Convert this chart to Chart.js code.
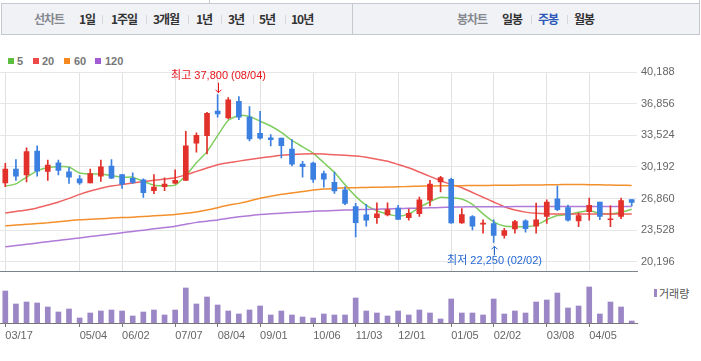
<!DOCTYPE html>
<html lang="ko">
<head>
<meta charset="UTF-8">
<title>주봉 차트</title>
<script src="https://cdn.jsdelivr.net/npm/chart.js"></script>
<style>
html, body { margin: 0; padding: 0; background: #fff; }
body { width: 701px; height: 361px; position: relative; overflow: hidden; font-family: "Noto Sans CJK KR", sans-serif; }
.vline { position: absolute; width: 1px; background: #c5c8ce; }
#bar { position: absolute; left: 1px; top: 3px; width: 699px; height: 32px; box-sizing: border-box; border: 1px solid #c5c8ce; background: #f1f2f6; }
#bar span { position: absolute; top: 0; line-height: 30px; font-size: 12px; font-weight: bold; color: #333; letter-spacing: -1px; white-space: nowrap; }
#bar span.dim { color: #85888f; }
#bar span.on { color: #2d57b9; }
#bar i { position: absolute; top: 11px; width: 1px; height: 9px; background: #d5d7dc; }
#bar b { position: absolute; top: 0; left: 350px; width: 1px; height: 30px; background: #c5c8ce; }
#legend span, #vlegend span { position: absolute; font: bold 11px "Liberation Sans", sans-serif; color: #777; line-height: 12px; }
#legend em, #vlegend em { position: absolute; display: block; }
canvas { position: absolute; left: 0; }
#price { top: 0; }
#vol { top: 282px; }
</style>
</head>
<body>
<div class="vline" style="left:209px; top:0; height:4px"></div>
<div class="vline" style="left:699px; top:0; height:4px"></div>
<div id="bar">
  <span class="dim" style="left:32px">선차트</span>
  <span style="left:77px">1일</span><i style="left:100px"></i>
  <span style="left:109px">1주일</span><i style="left:144px"></i>
  <span style="left:151px">3개월</span><i style="left:186px"></i>
  <span style="left:194px">1년</span><i style="left:219px"></i>
  <span style="left:226px">3년</span><i style="left:251px"></i>
  <span style="left:257px">5년</span><i style="left:283px"></i>
  <span style="left:289px">10년</span>
  <b></b>
  <span class="dim" style="left:455px">봉차트</span>
  <span style="left:500px">일봉</span><i style="left:529px"></i>
  <span class="on" style="left:536px">주봉</span><i style="left:565px"></i>
  <span style="left:572px">월봉</span>
</div>
<div id="legend">
  <em style="left:8px; top:58px; width:6px; height:6px; background:#5cbf40"></em><span style="left:17px; top:55px">5</span>
  <em style="left:33px; top:58px; width:6px; height:6px; background:#ee4848"></em><span style="left:42px; top:55px">20</span>
  <em style="left:64px; top:58px; width:6px; height:6px; background:#f5891f"></em><span style="left:74px; top:55px">60</span>
  <em style="left:95px; top:58px; width:6px; height:6px; background:#a35bd3"></em><span style="left:105px; top:55px">120</span>
</div>
<div id="vlegend">
  <em style="left:654px; top:289px; width:3px; height:8px; background:#9b86c6"></em><span style="left:659px; top:287px; font-weight:normal; color:#555; font-family:'Noto Sans CJK KR'; font-size:11px">거래량</span>
</div>
<canvas id="price" width="701" height="282"></canvas>
<canvas id="vol" width="701" height="79"></canvas>
<script>
// weekly dates (one candle per week)
const dates = ['03/17','03/23','03/30','04/06','04/13','04/20','04/27','05/04','05/11','05/18',
  '05/25','06/02','06/08','06/15','06/22','06/29','07/07','07/13','07/20','07/27',
  '08/04','08/10','08/17','08/24','09/01','09/07','09/14','09/21','09/28','10/06',
  '10/12','10/19','10/26','11/03','11/09','11/16','11/23','12/01','12/07','12/14',
  '12/21','12/28','01/05','01/11','01/18','01/25','02/02','02/08','02/15','02/22',
  '03/02','03/08','03/15','03/22','03/29','04/05','04/12','04/19','04/26','05/03'];
const axisDates = ['03/17','05/04','06/02','07/07','08/04','09/01','10/06','11/03','12/01','01/05','02/02','03/08','04/05'];

const opens  = [28500,29950,29350,31870,29720,30630,29680,28940,28500,29210,30290,29380,28980,28840,27700,28100,28470,28770,32680,33490,
  36080,35340,37090,35440,33720,33250,33220,32070,30490,30590,29480,28570,27770,26010,25140,24840,25140,25850,24840,25270,
  26690,28610,28880,24300,24970,24160,24230,22980,23660,24500,23960,24970,26820,25910,24500,25480,26490,24630,24970,26750];
const highs  = [30560,30960,32210,32410,30900,30900,30120,29280,29950,30900,30960,29400,29580,28940,29380,29040,29890,33930,33790,35950,
  37800,37500,37600,36550,36050,33590,33220,33080,30790,30700,29750,29650,28100,26350,26250,26420,26420,26150,25740,27020,
  28780,29200,29010,25810,25070,24630,24630,23720,24570,24630,26380,26720,28170,26180,25340,26920,26490,26080,26920,26750];
const lows   = [28100,28770,28600,29210,28770,29350,28440,28340,28500,28670,28940,27930,28440,26990,27360,27700,28400,28770,31740,31570,
  35440,35240,35170,32920,33120,32410,31130,30290,29110,28570,28070,27390,26220,22820,23960,24230,25040,24670,24570,24970,
  26080,27560,24230,24230,23560,23220,22250,22680,23220,23320,23220,24230,25580,24470,23890,24570,24630,23890,24730,26080];
const closes = [29950,29210,31800,29750,30390,29820,29110,28500,29480,30190,29010,28370,28570,27490,28070,28370,28770,32410,33520,35840,
  35780,37260,35440,33150,33220,33050,32440,30490,30220,28880,28910,27660,26350,24330,24570,25240,25710,24670,25310,26720,
  28370,29080,24300,25170,23960,24230,22980,23490,24430,23690,24630,26490,25680,24570,25070,26150,24970,24700,26650,26450];

const ma5   = [28170,28400,29110,29780,30120,30220,30190,29550,29450,29450,29280,29110,29110,28670,28270,28200,28270,29280,30630,31800,
  33490,35100,35610,35510,35000,34500,33820,32980,32310,31640,30630,29620,28300,27090,26150,25580,25240,25000,25240,25910,
  26520,26990,26920,26820,26250,25240,24400,23960,23890,23890,24060,24630,25070,25170,25410,25580,25310,25240,25410,25740];
const ma20  = [25340,25500,25660,25870,26180,26500,26880,27300,27650,27950,28170,28350,28500,28650,28780,28920,29050,29350,29720,30080,
  30420,30620,30800,30970,31130,31270,31420,31500,31550,31570,31540,31480,31420,31340,31220,31000,30780,30450,30100,29650,
  29200,28750,28350,28000,27500,27000,26500,26000,25650,25430,25300,25250,25230,25230,25230,25230,25230,25230,25230,25230];
const ma60  = [23990,24070,24150,24230,24310,24420,24530,24630,24690,24740,24800,24850,24900,24970,25040,25110,25170,25300,25450,25650,
  25900,26150,26350,26600,26900,27100,27300,27450,27600,27750,27860,27930,27990,28000,28030,28050,28070,28100,28130,28160,
  28180,28200,28210,28220,28230,28240,28250,28260,28270,28280,28290,28300,28320,28330,28330,28320,28300,28280,28260,28240];
const ma120 = [21770,21910,22040,22180,22310,22450,22580,22710,22850,22990,23120,23260,23390,23530,23670,23810,23950,24150,24350,24480,
  24610,24780,24930,25060,25170,25250,25320,25390,25450,25510,25560,25600,25640,25680,25710,25740,25770,25800,25830,25850,
  25880,25910,25950,25980,26000,26000,26000,26000,26010,26010,26010,26020,26020,26020,26020,26020,26020,26020,26020,26020];

// volume, thousand shares
const volumes = [960,570,630,600,480,330,420,150,300,360,390,360,210,330,390,240,390,1050,570,780,
  540,360,270,390,510,240,360,240,180,150,270,240,240,750,360,300,210,360,240,390,
  300,120,720,300,300,240,720,270,360,300,630,690,900,450,510,1080,270,630,480,60];

const priceTicks = [20196, 23528, 26860, 30192, 33524, 36856, 40188];

const upColor = '#e2302a', downColor = '#3b7fe1';
const candleColors = opens.map((o, i) => closes[i] >= o ? upColor : downColor);
const isAxisDate = i => axisDates.includes(dates[i]);

Chart.defaults.font.family = '"Liberation Sans", "Noto Sans CJK KR", sans-serif';
Chart.defaults.font.size = 11;

// highest / lowest marks with arrows
const hiLoPlugin = {
  id: 'hiLo',
  afterDatasetsDraw(chart) {
    const { ctx, scales: { x, y } } = chart;
    const hiVal = Math.max(...highs), loVal = Math.min(...lows);
    const hi = highs.indexOf(hiVal), lo = lows.indexOf(loVal);
    ctx.save();
    ctx.font = '11px "Liberation Sans", "Noto Sans CJK KR", sans-serif';
    ctx.textAlign = 'center';
    ctx.textBaseline = 'middle';
    ctx.lineWidth = 1;

    let px = Math.round(x.getPixelForValue(hi)) + 0.5, py = y.getPixelForValue(hiVal);
    ctx.strokeStyle = ctx.fillStyle = '#e8141b';
    ctx.beginPath();
    ctx.moveTo(px, py - 12); ctx.lineTo(px, py - 2);
    ctx.moveTo(px - 3, py - 5); ctx.lineTo(px, py - 2); ctx.lineTo(px + 3, py - 5);
    ctx.stroke();
    ctx.fillText('최고 ' + hiVal.toLocaleString('en-US') + ' (' + dates[hi] + ')', px, py - 19);

    px = Math.round(x.getPixelForValue(lo)) + 0.5; py = y.getPixelForValue(loVal);
    ctx.strokeStyle = ctx.fillStyle = '#2467d2';
    ctx.beginPath();
    ctx.moveTo(px, py + 13); ctx.lineTo(px, py + 4);
    ctx.moveTo(px - 3, py + 7); ctx.lineTo(px, py + 4); ctx.lineTo(px + 3, py + 7);
    ctx.stroke();
    ctx.fillText('최저 ' + loVal.toLocaleString('en-US') + ' (' + dates[lo] + ')', px, py + 19);
    ctx.restore();
  }
};

const maLine = (label, data, color) => ({
  type: 'line', label, data, borderColor: color, borderWidth: 1.5,
  pointRadius: 0, tension: 0.2, order: 5
});

new Chart(document.getElementById('price'), {
  type: 'bar',
  data: {
    labels: dates,
    datasets: [
      maLine('120', ma120, '#b07ad8'),
      maLine('60', ma60, '#f4902c'),
      maLine('20', ma20, '#ef6262'),
      maLine('5', ma5, '#80cd60'),
      { label: 'wick', data: lows.map((l, i) => [l, highs[i]]), backgroundColor: candleColors,
        barThickness: 1, grouped: false, order: 1 },
      { label: 'body', data: opens.map((o, i) => [o, closes[i]]), backgroundColor: candleColors,
        barThickness: 5, minBarLength: 1, grouped: false, order: 0 }
    ]
  },
  options: {
    responsive: false,
    animation: false,
    layout: { padding: { top: 72, bottom: 2, left: 0, right: 0 } },
    plugins: { legend: { display: false }, tooltip: { enabled: false } },
    scales: {
      x: {
        grid: { offset: false, drawTicks: false, color: c => isAxisDate(c.index) ? '#e2e2e2' : 'rgba(0,0,0,0)' },
        border: { color: '#7d838b' },
        ticks: { display: false, autoSkip: false },
        afterFit: s => { s.height = 0; }
      },
      y: {
        position: 'right',
        min: 19186, max: 40188,
        afterBuildTicks: s => { s.ticks = priceTicks.map(v => ({ value: v })); },
        grid: { color: '#e6e6e6', drawTicks: false },
        border: { display: false },
        ticks: { padding: 4, color: '#666', callback: v => v.toLocaleString('en-US') },
        afterFit: s => { s.width = 64; }
      }
    }
  },
  plugins: [hiLoPlugin]
});

new Chart(document.getElementById('vol'), {
  type: 'bar',
  data: {
    labels: dates,
    datasets: [{ label: '거래량', data: volumes, backgroundColor: '#9b86c6', barThickness: 5 }]
  },
  options: {
    responsive: false,
    animation: false,
    layout: { padding: { top: 1, bottom: 0, left: 0, right: 64 } },
    plugins: { legend: { display: false }, tooltip: { enabled: false } },
    scales: {
      x: {
        grid: { offset: false, drawOnChartArea: false, tickLength: 4, color: c => isAxisDate(c.index) ? '#777' : 'rgba(0,0,0,0)' },
        border: { color: '#777' },
        ticks: { autoSkip: false, maxRotation: 0, align: 'start', padding: 2, color: '#666',
          callback: (v, i) => isAxisDate(i) ? dates[i] : '' },
        afterFit: s => { s.height = 38; }
      },
      y: { display: false, min: 0, max: 1200 }
    }
  }
});
</script>
</body>
</html>
